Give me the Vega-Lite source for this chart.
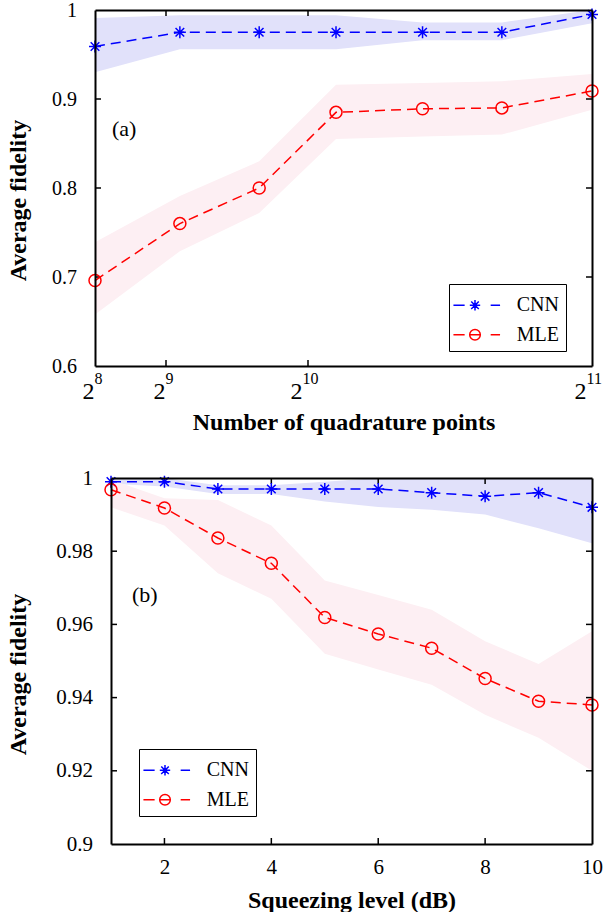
{
  "$schema": "https://vega.github.io/schema/vega-lite/v6.json",
  "padding": {"left": 5, "top": 0, "right": 0, "bottom": 0},
  "spacing": 33,
  "resolve": {"scale": {"color": "independent", "shape": "independent"}, "legend": {"color": "independent", "shape": "independent"}},
  "config": {
    "font": "Liberation Serif",
    "view": {"stroke": null},
    "axis": {"labelFont": "Liberation Serif", "titleFont": "Liberation Serif", "labelColor": "black", "titleColor": "black", "grid": false, "labelFlush": false, "labelOverlap": false, "tickColor": "black", "domainColor": "black"}
  },
  "datasets": {
    "top": [
      {"n": 256, "series": "CNN", "f": 0.959, "lo": 0.930, "hi": 0.991},
      {"n": 562, "series": "CNN", "f": 0.975, "lo": 0.956, "hi": 0.994},
      {"n": 848, "series": "CNN", "f": 0.975, "lo": 0.956, "hi": 0.994},
      {"n": 1125, "series": "CNN", "f": 0.975, "lo": 0.956, "hi": 0.994},
      {"n": 1437, "series": "CNN", "f": 0.975, "lo": 0.966, "hi": 0.986},
      {"n": 1723, "series": "CNN", "f": 0.975, "lo": 0.966, "hi": 0.986},
      {"n": 2048, "series": "CNN", "f": 0.995, "lo": 0.985, "hi": 1.0},
      {"n": 256, "series": "MLE", "f": 0.696, "lo": 0.658, "hi": 0.739},
      {"n": 562, "series": "MLE", "f": 0.760, "lo": 0.729, "hi": 0.791},
      {"n": 848, "series": "MLE", "f": 0.800, "lo": 0.772, "hi": 0.830},
      {"n": 1125, "series": "MLE", "f": 0.885, "lo": 0.855, "hi": 0.916},
      {"n": 1437, "series": "MLE", "f": 0.889, "lo": 0.858, "hi": 0.918},
      {"n": 1723, "series": "MLE", "f": 0.890, "lo": 0.860, "hi": 0.920},
      {"n": 2048, "series": "MLE", "f": 0.909, "lo": 0.888, "hi": 0.928}
    ],
    "bottom": [
      {"s": 1, "series": "CNN", "f": 0.999, "lo": 0.9984, "hi": 1.0},
      {"s": 2, "series": "CNN", "f": 0.999, "lo": 0.9977, "hi": 1.0},
      {"s": 3, "series": "CNN", "f": 0.997, "lo": 0.9956, "hi": 0.998},
      {"s": 4, "series": "CNN", "f": 0.997, "lo": 0.9956, "hi": 0.998},
      {"s": 5, "series": "CNN", "f": 0.997, "lo": 0.9936, "hi": 0.999},
      {"s": 6, "series": "CNN", "f": 0.997, "lo": 0.9921, "hi": 1.0},
      {"s": 7, "series": "CNN", "f": 0.996, "lo": 0.9913, "hi": 1.0},
      {"s": 8, "series": "CNN", "f": 0.995, "lo": 0.990, "hi": 1.0},
      {"s": 9, "series": "CNN", "f": 0.996, "lo": 0.9863, "hi": 1.0},
      {"s": 10, "series": "CNN", "f": 0.992, "lo": 0.9822, "hi": 1.0},
      {"s": 1, "series": "MLE", "f": 0.9968, "lo": 0.992, "hi": 0.9995},
      {"s": 2, "series": "MLE", "f": 0.9918, "lo": 0.987, "hi": 0.9945},
      {"s": 3, "series": "MLE", "f": 0.9836, "lo": 0.974, "hi": 0.994},
      {"s": 4, "series": "MLE", "f": 0.9767, "lo": 0.967, "hi": 0.987},
      {"s": 5, "series": "MLE", "f": 0.9619, "lo": 0.952, "hi": 0.972},
      {"s": 6, "series": "MLE", "f": 0.9574, "lo": 0.9477, "hi": 0.968},
      {"s": 7, "series": "MLE", "f": 0.9535, "lo": 0.9435, "hi": 0.964},
      {"s": 8, "series": "MLE", "f": 0.9452, "lo": 0.9353, "hi": 0.9554},
      {"s": 9, "series": "MLE", "f": 0.939, "lo": 0.929, "hi": 0.9492},
      {"s": 10, "series": "MLE", "f": 0.938, "lo": 0.920, "hi": 0.9581}
    ],
    "topXTicks": [{"t": 512}, {"t": 1024}],
    "topYTicks": [{"t": 0.7}, {"t": 0.8}, {"t": 0.9}],
    "botXTicks": [{"t": 2}, {"t": 4}, {"t": 6}, {"t": 8}],
    "botYTicks": [{"t": 0.92}, {"t": 0.94}, {"t": 0.96}, {"t": 0.98}]
  },
  "vconcat": [
    {"spacing": 0,
     "resolve": {"scale": {"color": "independent", "shape": "independent"}, "legend": {"color": "independent", "shape": "independent"}},
     "hconcat": [
    {"width": 1, "height": 1, "data": {"values": [{"a": 0}]}, "mark": {"type": "text", "text": ""}},
    {
      "width": 497,
      "height": 356,
      "resolve": {"axis": {"x": "independent", "y": "independent"}},
      "layer": [
        {
          "data": {"name": "top"},
          "transform": [{"filter": "datum.series == 'CNN'"}],
          "mark": {"type": "area", "color": "#e1e1fa", "opacity": 1},
          "encoding": {
            "x": {"field": "n", "type": "quantitative", "scale": {"domain": [256, 2048], "nice": false, "zero": false},
              "axis": {"orient": "bottom", "values": [256, 512, 1024, 2048], "labelExpr": "'2'", "labelAlign": "right",
                "labelOffset": {"condition": {"test": "datum.value >= 1024", "value": -6}, "value": -1},
                "labelBaseline": "alphabetic", "labelPadding": 32, "labelFontSize": 24,
                "ticks": false, "domain": true, "domainWidth": 2, "zindex": 1,
                "title": "Number of quadrature points", "titleFontSize": 24, "titleFontWeight": "bold", "titleBaseline": "alphabetic", "titleY": 63}},
            "y": {"field": "lo", "type": "quantitative", "scale": {"domain": [0.6, 1], "nice": false, "zero": false},
              "axis": {"orient": "left", "values": [0.6, 0.7, 0.8, 0.9, 1], "labelExpr": "datum.value == 1 ? '1' : format(datum.value, '.1f')",
                "labelFontSize": 20, "labelPadding": 18.5, "ticks": false, "domain": true, "domainWidth": 2, "zindex": 1,
                "title": "Average fidelity", "titleFontSize": 24, "titleFontWeight": "bold", "titleBaseline": "alphabetic", "titleAngle": 270, "titleAlign": "center", "titleX": -70, "titleY": 190}},
            "y2": {"field": "hi"}
          }
        },
        {
          "data": {"name": "top"},
          "transform": [{"filter": "datum.series == 'MLE'"}],
          "mark": {"type": "area", "color": "#fdeff3", "opacity": 1},
          "encoding": {
            "x": {"field": "n", "type": "quantitative",
              "axis": {"orient": "top", "labels": false, "ticks": false, "domain": true, "domainWidth": 2, "zindex": 1, "title": null}},
            "y": {"field": "lo", "type": "quantitative",
              "axis": {"orient": "right", "labels": false, "ticks": false, "domain": true, "domainWidth": 2, "zindex": 1, "title": null}},
            "y2": {"field": "hi"}
          }
        },
        {
          "data": {"name": "topXTicks"},
          "mark": {"type": "tick", "orient": "vertical", "size": 6, "thickness": 1.5, "color": "black", "opacity": 1, "yOffset": -3},
          "encoding": {
            "x": {"field": "t", "type": "quantitative", "axis": null},
            "y": {"datum": 0.6, "type": "quantitative", "axis": null}
          }
        },
        {
          "data": {"name": "topXTicks"},
          "mark": {"type": "tick", "orient": "vertical", "size": 6, "thickness": 1.5, "color": "black", "opacity": 1, "yOffset": 3},
          "encoding": {
            "x": {"field": "t", "type": "quantitative", "axis": null},
            "y": {"datum": 1, "type": "quantitative", "axis": null}
          }
        },
        {
          "data": {"name": "topYTicks"},
          "mark": {"type": "tick", "orient": "horizontal", "size": 6, "thickness": 1.5, "color": "black", "opacity": 1, "xOffset": 3},
          "encoding": {
            "y": {"field": "t", "type": "quantitative", "axis": null},
            "x": {"datum": 256, "type": "quantitative", "axis": null}
          }
        },
        {
          "data": {"name": "topYTicks"},
          "mark": {"type": "tick", "orient": "horizontal", "size": 6, "thickness": 1.5, "color": "black", "opacity": 1, "xOffset": -3},
          "encoding": {
            "y": {"field": "t", "type": "quantitative", "axis": null},
            "x": {"datum": 2048, "type": "quantitative", "axis": null}
          }
        },
        {
          "data": {"name": "top"},
          "transform": [{"filter": "datum.series == 'CNN'"}],
          "mark": {"type": "line", "color": "#0000ff", "strokeWidth": 1.5, "strokeDash": [10, 6]},
          "encoding": {
            "x": {"field": "n", "type": "quantitative", "axis": null},
            "y": {"field": "f", "type": "quantitative", "axis": null}
          }
        },
        {
          "data": {"name": "top"},
          "transform": [{"filter": "datum.series == 'MLE'"}],
          "mark": {"type": "line", "color": "#ff0000", "strokeWidth": 1.5, "strokeDash": [10, 6]},
          "encoding": {
            "x": {"field": "n", "type": "quantitative", "axis": null},
            "y": {"field": "f", "type": "quantitative", "axis": null}
          }
        },
        {
          "data": {"name": "top"},
          "transform": [{"filter": "datum.series == 'CNN'"}],
          "mark": {"type": "point", "shape": "M-1,0L1,0M0,-1L0,1M-0.72,-0.72L0.72,0.72M-0.72,0.72L0.72,-0.72", "filled": false, "color": "#0000ff", "strokeWidth": 1.5, "size": 144, "opacity": 1},
          "encoding": {
            "x": {"field": "n", "type": "quantitative",
              "axis": {"orient": "bottom", "values": [256, 512, 1024, 2048],
                "labelExpr": "datum.value == 256 ? '8' : datum.value == 512 ? '9' : datum.value == 1024 ? '10' : '11'",
                "labelAlign": "left", "labelOffset": {"condition": {"test": "datum.value >= 1024", "value": -6}, "value": -1},
                "labelBaseline": "alphabetic", "labelPadding": 17, "labelFontSize": 16, "ticks": false, "domain": false, "title": null}},
            "y": {"field": "f", "type": "quantitative", "axis": null}
          }
        },
        {
          "data": {"name": "top"},
          "transform": [{"filter": "datum.series == 'MLE'"}],
          "mark": {"type": "point", "shape": "circle", "filled": false, "color": "#ff0000", "strokeWidth": 1.5, "size": 144, "opacity": 1},
          "encoding": {
            "x": {"field": "n", "type": "quantitative", "axis": null},
            "y": {"field": "f", "type": "quantitative", "axis": null}
          }
        },
        {
          "data": {"values": [{"n": 317, "f": 0.866, "label": "(a)"}]},
          "mark": {"type": "text", "align": "left", "baseline": "middle", "fontSize": 22, "font": "Liberation Serif", "color": "black"},
          "encoding": {
            "x": {"field": "n", "type": "quantitative", "axis": null},
            "y": {"field": "f", "type": "quantitative", "axis": null},
            "text": {"field": "label"}
          }
        },
        {
          "data": {"name": "top"},
          "transform": [{"filter": "false"}],
          "mark": {"type": "point", "filled": false, "strokeWidth": 1.5, "size": 784, "opacity": 1},
          "encoding": {
            "color": {"field": "series", "type": "nominal", "scale": {"domain": ["CNN", "MLE"], "range": ["#0000ff", "#ff0000"]},
              "legend": {"orient": "none", "legendX": 354, "legendY": 274, "title": null, "strokeColor": "black", "fillColor": "white", "padding": 6.25,
                "symbolSize": 784, "symbolStrokeWidth": 1.5, "symbolOffset": 4.75, "labelOffset": 26.75, "rowPadding": 4.5,
                "labelFontSize": 20, "labelFont": "Liberation Serif", "labelColor": "black", "direction": "vertical"}},
            "shape": {"field": "series", "type": "nominal", "scale": {"domain": ["CNN", "MLE"],
              "range": ["M-1.54,0L-0.74,0M1.12,0L1.79,0M-0.37,0L0.37,0M0,-0.37L0,0.37M-0.27,-0.27L0.27,0.27M-0.27,0.27L0.27,-0.27",
                        "M-1.54,0L-0.74,0M1.12,0L1.79,0M-0.38,0L0.38,0M0.38,0A0.38,0.38,0,1,1,-0.38,0A0.38,0.38,0,1,1,0.38,0"]}}
          }
        }
      ]
    }]},
    {"spacing": 0,
     "resolve": {"scale": {"color": "independent", "shape": "independent"}, "legend": {"color": "independent", "shape": "independent"}},
     "hconcat": [
    {"width": 1, "height": 1, "data": {"values": [{"a": 0}]}, "mark": {"type": "text", "text": ""}},
    {
      "width": 481,
      "height": 366,
      "resolve": {"axis": {"x": "independent", "y": "independent"}},
      "layer": [
        {
          "data": {"name": "bottom"},
          "transform": [{"filter": "datum.series == 'CNN'"}],
          "mark": {"type": "area", "color": "#e1e1fa", "opacity": 1},
          "encoding": {
            "x": {"field": "s", "type": "quantitative", "scale": {"domain": [1, 10], "nice": false, "zero": false},
              "axis": {"orient": "bottom", "values": [2, 4, 6, 8, 10], "labelBaseline": "alphabetic", "labelPadding": 29, "labelFontSize": 21,
                "ticks": false, "domain": true, "domainWidth": 2, "zindex": 1,
                "title": "Squeezing level (dB)", "titleFontSize": 24, "titleFontWeight": "bold", "titleBaseline": "alphabetic", "titleY": 63}},
            "y": {"field": "lo", "type": "quantitative", "scale": {"domain": [0.9, 1], "nice": false, "zero": false},
              "axis": {"orient": "left", "values": [0.9, 0.92, 0.94, 0.96, 0.98, 1], "labelExpr": "datum.value == 1 ? '1' : datum.value == 0.9 ? '0.9' : format(datum.value, '.2f')",
                "labelFontSize": 21, "labelPadding": 18.5, "ticks": false, "domain": true, "domainWidth": 2, "zindex": 1,
                "title": "Average fidelity", "titleFontSize": 24, "titleFontWeight": "bold", "titleBaseline": "alphabetic", "titleAngle": 270, "titleAlign": "center", "titleX": -86, "titleY": 196}},
            "y2": {"field": "hi"}
          }
        },
        {
          "data": {"name": "bottom"},
          "transform": [{"filter": "datum.series == 'MLE'"}],
          "mark": {"type": "area", "color": "#fdeff3", "opacity": 1},
          "encoding": {
            "x": {"field": "s", "type": "quantitative",
              "axis": {"orient": "top", "labels": false, "ticks": false, "domain": true, "domainWidth": 2, "zindex": 1, "title": null}},
            "y": {"field": "lo", "type": "quantitative",
              "axis": {"orient": "right", "labels": false, "ticks": false, "domain": true, "domainWidth": 2, "zindex": 1, "title": null}},
            "y2": {"field": "hi"}
          }
        },
        {
          "data": {"name": "botXTicks"},
          "mark": {"type": "tick", "orient": "vertical", "size": 6, "thickness": 1.5, "color": "black", "opacity": 1, "yOffset": -3},
          "encoding": {
            "x": {"field": "t", "type": "quantitative", "axis": null},
            "y": {"datum": 0.9, "type": "quantitative", "axis": null}
          }
        },
        {
          "data": {"name": "botXTicks"},
          "mark": {"type": "tick", "orient": "vertical", "size": 6, "thickness": 1.5, "color": "black", "opacity": 1, "yOffset": 3},
          "encoding": {
            "x": {"field": "t", "type": "quantitative", "axis": null},
            "y": {"datum": 1, "type": "quantitative", "axis": null}
          }
        },
        {
          "data": {"name": "botYTicks"},
          "mark": {"type": "tick", "orient": "horizontal", "size": 6, "thickness": 1.5, "color": "black", "opacity": 1, "xOffset": 3},
          "encoding": {
            "y": {"field": "t", "type": "quantitative", "axis": null},
            "x": {"datum": 1, "type": "quantitative", "axis": null}
          }
        },
        {
          "data": {"name": "botYTicks"},
          "mark": {"type": "tick", "orient": "horizontal", "size": 6, "thickness": 1.5, "color": "black", "opacity": 1, "xOffset": -3},
          "encoding": {
            "y": {"field": "t", "type": "quantitative", "axis": null},
            "x": {"datum": 10, "type": "quantitative", "axis": null}
          }
        },
        {
          "data": {"name": "bottom"},
          "transform": [{"filter": "datum.series == 'CNN'"}],
          "mark": {"type": "line", "color": "#0000ff", "strokeWidth": 1.5, "strokeDash": [10, 6]},
          "encoding": {
            "x": {"field": "s", "type": "quantitative", "axis": null},
            "y": {"field": "f", "type": "quantitative", "axis": null}
          }
        },
        {
          "data": {"name": "bottom"},
          "transform": [{"filter": "datum.series == 'MLE'"}],
          "mark": {"type": "line", "color": "#ff0000", "strokeWidth": 1.5, "strokeDash": [10, 6]},
          "encoding": {
            "x": {"field": "s", "type": "quantitative", "axis": null},
            "y": {"field": "f", "type": "quantitative", "axis": null}
          }
        },
        {
          "data": {"name": "bottom"},
          "transform": [{"filter": "datum.series == 'CNN'"}],
          "mark": {"type": "point", "shape": "M-1,0L1,0M0,-1L0,1M-0.72,-0.72L0.72,0.72M-0.72,0.72L0.72,-0.72", "filled": false, "color": "#0000ff", "strokeWidth": 1.5, "size": 144, "opacity": 1},
          "encoding": {
            "x": {"field": "s", "type": "quantitative", "axis": null},
            "y": {"field": "f", "type": "quantitative", "axis": null}
          }
        },
        {
          "data": {"name": "bottom"},
          "transform": [{"filter": "datum.series == 'MLE'"}],
          "mark": {"type": "point", "shape": "circle", "filled": false, "color": "#ff0000", "strokeWidth": 1.5, "size": 144, "opacity": 1},
          "encoding": {
            "x": {"field": "s", "type": "quantitative", "axis": null},
            "y": {"field": "f", "type": "quantitative", "axis": null}
          }
        },
        {
          "data": {"values": [{"s": 1.393, "f": 0.968, "label": "(b)"}]},
          "mark": {"type": "text", "align": "left", "baseline": "middle", "fontSize": 22, "font": "Liberation Serif", "color": "black"},
          "encoding": {
            "x": {"field": "s", "type": "quantitative", "axis": null},
            "y": {"field": "f", "type": "quantitative", "axis": null},
            "text": {"field": "label"}
          }
        },
        {
          "data": {"name": "bottom"},
          "transform": [{"filter": "false"}],
          "mark": {"type": "point", "filled": false, "strokeWidth": 1.5, "size": 784, "opacity": 1},
          "encoding": {
            "color": {"field": "series", "type": "nominal", "scale": {"domain": ["CNN", "MLE"], "range": ["#0000ff", "#ff0000"]},
              "legend": {"orient": "none", "legendX": 28, "legendY": 271, "title": null, "strokeColor": "black", "fillColor": "white", "padding": 6.25,
                "symbolSize": 784, "symbolStrokeWidth": 1.5, "symbolOffset": 4.75, "labelOffset": 26.75, "rowPadding": 4.5,
                "labelFontSize": 20, "labelFont": "Liberation Serif", "labelColor": "black", "direction": "vertical"}},
            "shape": {"field": "series", "type": "nominal", "scale": {"domain": ["CNN", "MLE"],
              "range": ["M-1.54,0L-0.74,0M1.12,0L1.79,0M-0.37,0L0.37,0M0,-0.37L0,0.37M-0.27,-0.27L0.27,0.27M-0.27,0.27L0.27,-0.27",
                        "M-1.54,0L-0.74,0M1.12,0L1.79,0M-0.38,0L0.38,0M0.38,0A0.38,0.38,0,1,1,-0.38,0A0.38,0.38,0,1,1,0.38,0"]}}
          }
        }
      ]
    }]}
  ]
}
